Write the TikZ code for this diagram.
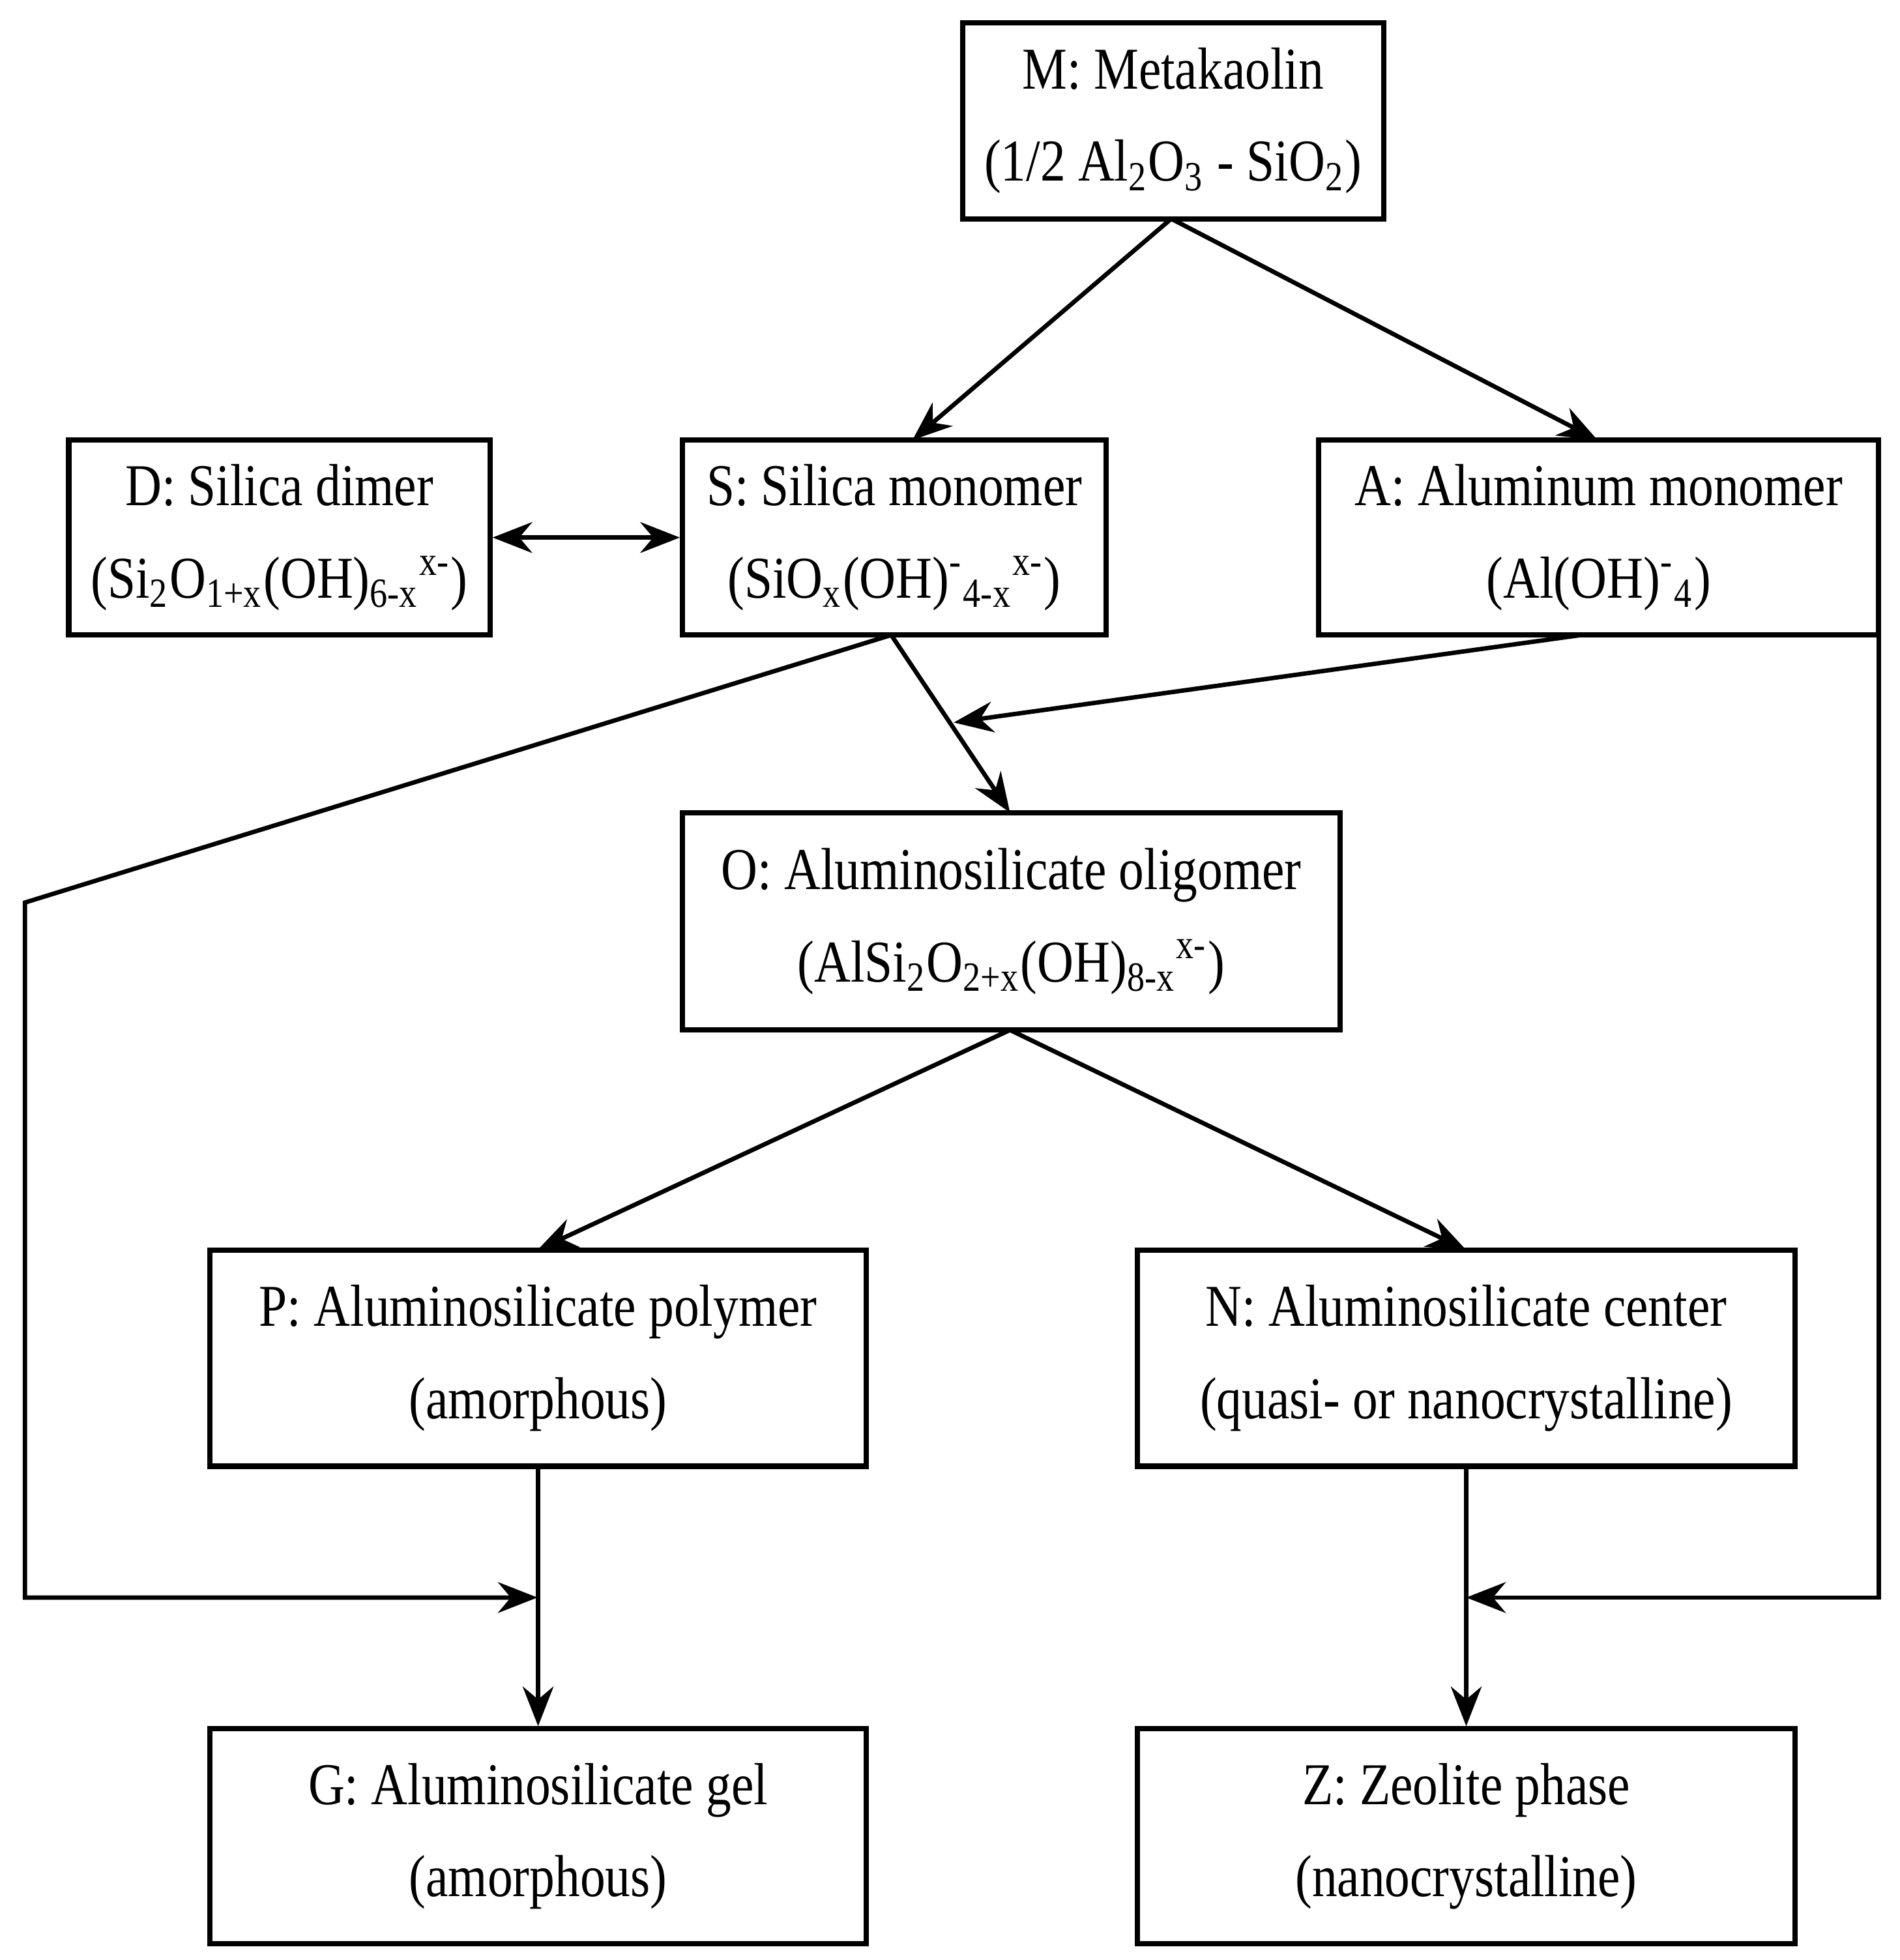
\documentclass[tikz,border=0pt]{standalone}
\usepackage{fontspec}
\setmainfont{Liberation Serif}[FakeStretch=0.85]
\usetikzlibrary{arrows.meta}
\newcommand{\sbs}[1]{\textsubscript{#1}}
\newcommand{\sps}[1]{\textsuperscript{#1}}
\begin{document}
\begin{tikzpicture}[x=0.01cm,y=-0.01cm,
  box/.style={draw,line width=1.2pt,inner sep=0pt,align=center,font=\fontsize{13.5}{21}\selectfont},
  arr/.style={line width=1pt,-{Stealth[length=9pt,width=7pt]}}]
\useasboundingbox (0,0) rectangle (1520,1568);
\newcommand{\bx}[6]{\node[box,minimum width=#4*0.01cm-#2*0.01cm,minimum height=#5*0.01cm-#3*0.01cm] (#1) at ({(#2+#4)/2},{(#3+#5)/2}) {#6};}
\bx{M}{770}{18}{1107}{175}{M: Metakaolin\\(1/2 Al\sbs{2}O\sbs{3} - SiO\sbs{2})}
\bx{D}{55}{352}{392}{508}{D: Silica dimer\\(Si\sbs{2}O\sbs{1+x}(OH)\sbs{6-x}\sps{x-})}
\bx{S}{546}{352}{885}{508}{S: Silica monomer\\(SiO\sbs{x}(OH)\sps{-}\sbs{4-x}\sps{x-})}
\bx{A}{1055}{352}{1503}{508}{A: Aluminum monomer\\(Al(OH)\sps{-}\sbs{4})}
\bx{O}{546}{650}{1072}{824}{O: Aluminosilicate oligomer\\(AlSi\sbs{2}O\sbs{2+x}(OH)\sbs{8-x}\sps{x-})}
\bx{P}{168}{1000}{693}{1173}{P: Aluminosilicate polymer\\(amorphous)}
\bx{N}{910}{1000}{1436}{1173}{N: Aluminosilicate center\\(quasi- or nanocrystalline)}
\bx{G}{168}{1383}{693}{1555}{G: Aluminosilicate gel\\(amorphous)}
\bx{Z}{910}{1383}{1436}{1555}{Z: Zeolite phase\\(nanocrystalline)}
\coordinate (j1) at (763,578);
\coordinate (c1) at (20,722);
\coordinate (c2) at (20,1278);
\coordinate (j2) at (430,1278);
\coordinate (a1) at (1503,508);
\coordinate (c3) at (1503,1278);
\coordinate (j3) at (1173,1278);
\draw[arr] (937,175) -- (730,352);
\draw[arr] (937,175) -- (1278,352);
\draw[line width=1pt,{Stealth[length=9pt,width=7pt]}-{Stealth[length=9pt,width=7pt]}] (D.east) -- (S.west);
\draw[arr] (713,508) -- (808,650);
\draw[arr] (1265,508) -- (j1);
\draw[arr] (713,508) -- (c1) -- (c2) -- (j2);
\draw[arr] (P.south) -- (G.north);
\draw[arr] (a1) -- (c3) -- (j3);
\draw[arr] (N.south) -- (Z.north);
\draw[arr] (808,824) -- (430,1000);
\draw[arr] (808,824) -- (1173,1000);
\end{tikzpicture}
\end{document}
